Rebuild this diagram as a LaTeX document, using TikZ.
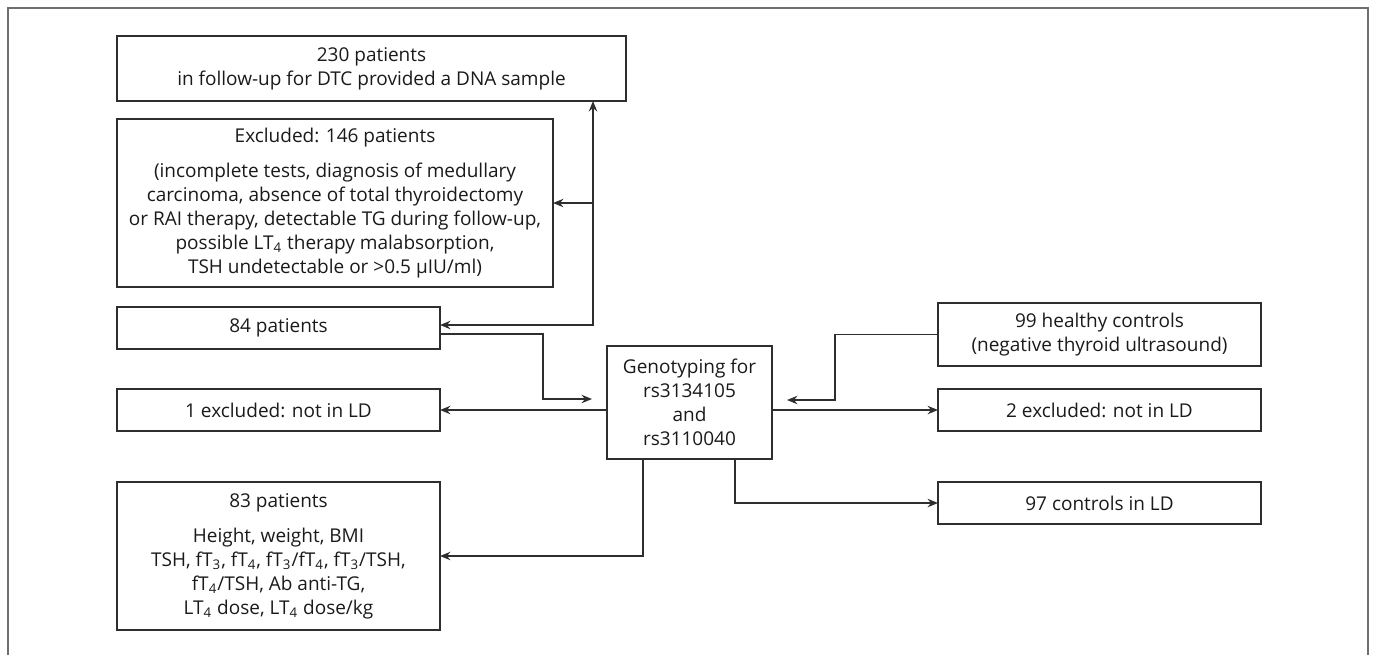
\documentclass[tikz,border=0pt]{standalone}
\usepackage{fontspec}
\setmainfont{Open Sans}
\usepackage{xcolor}
\usepackage{tikz}
\usetikzlibrary{arrows.meta, calc}
\definecolor{fcline}{HTML}{2E2E2E}
\definecolor{fctext}{HTML}{1A1A1A}
\definecolor{fcframe}{HTML}{6E6E6E}
\tikzset{
  fbox/.style={draw=fcline, line width=0.85pt, align=center, inner sep=0pt, outer sep=0pt, text=fctext, font=\fontsize{9.5}{12}\selectfont},
  fflow/.style={-{Stealth[length=5.2pt, width=4.2pt]}, line width=0.75pt, fcline},
  fboth/.style={{Stealth[length=5.2pt, width=4.2pt]}-{Stealth[length=5.2pt, width=4.2pt]}, line width=0.75pt, fcline},
  fframe/.style={draw=fcframe, line width=1pt},
}

\begin{document}
\begin{tikzpicture}[x=0.5pt, y=-0.5pt]
    \useasboundingbox (0,0) rectangle (1375,655);
    \draw[fframe] (8,655) -- (8,8) -- (1368,8) -- (1368,655);
    % left column
    \node[fbox, minimum width=254.5pt, minimum height=32.5pt] (top) at (371.5,68.5) {230 patients\\in follow-up for DTC provided a DNA sample};
    \node[fbox, minimum width=218pt, minimum height=84pt] (excl) at (335,203) {Excluded: 146 patients\\[5.5pt](incomplete tests, diagnosis of medullary\\carcinoma, absence of total thyroidectomy\\or RAI therapy, detectable TG during follow-up,\\possible LT\textsubscript{4} therapy malabsorption,\\TSH undetectable or >0.5 µIU/ml)};
    \node[fbox, minimum width=161.5pt, minimum height=21pt] (p84) at (278.5,328) {84 patients};
    \node[fbox, minimum width=161.5pt, minimum height=21pt] (ex1) at (278.5,410) {1 excluded: not in LD};
    \node[fbox, minimum width=161.5pt, minimum height=74pt] (p83) at (278.5,556) {83 patients\\[5.5pt]Height, weight, BMI\\TSH, fT\textsubscript{3}, fT\textsubscript{4}, fT\textsubscript{3}/fT\textsubscript{4}, fT\textsubscript{3}/TSH,\\fT\textsubscript{4}/TSH, Ab anti-TG,\\LT\textsubscript{4} dose, LT\textsubscript{4} dose/kg};
    % centre
    \node[fbox, minimum width=82.5pt, minimum height=56.5pt] (geno) at (689.5,402.5) {Genotyping for\\rs3134105\\and\\rs3110040};
    % right column
    \node[fbox, minimum width=161.5pt, minimum height=31.5pt] (c99) at (1099.5,334.5) {99 healthy controls\\(negative thyroid ultrasound)};
    \node[fbox, minimum width=161.5pt, minimum height=21pt] (ex2) at (1099.5,410) {2 excluded: not in LD};
    \node[fbox, minimum width=161.5pt, minimum height=21pt] (c97) at (1099.5,503) {97 controls in LD};
    \coordinate (split) at (593,325);
    % connectors
    \draw[fboth] ([yshift=1.5pt]p84.east) -- (split) -- (split |- top.south);
    \draw[fflow] (split |- excl.east) -- (excl.east);
    \draw[fflow] ([yshift=-3pt]p84.east) -| ($(geno.west)+(-64,-3.5)$) -- ([xshift=-7.5pt, yshift=1.75pt]geno.west);
    \draw[fflow] (geno.west |- ex1.east) -- (ex1.east);
    \draw[fflow] (c99.west) -| ($(geno.east)+(63,-2.5)$) -- ([xshift=7.5pt, yshift=1.25pt]geno.east);
    \draw[fflow] (geno.east |- ex2.west) -- (ex2.west);
    \draw[fflow] ([xshift=22.75pt]geno.south) |- (c97.west);
    \draw[fflow] ([xshift=-23.25pt]geno.south) |- (p83.east);
\end{tikzpicture}
\end{document}
